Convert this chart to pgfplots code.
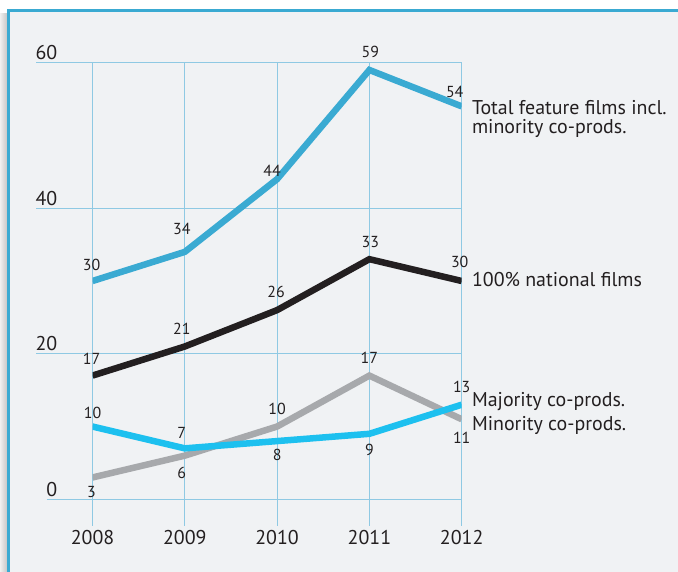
\documentclass[border=0pt]{standalone}
\usepackage{fontspec}
\setmainfont{PT Sans}
\usepackage{pgfplots}
\usepackage{pgfplotstable}
\pgfplotsset{compat=1.18}
\definecolor{bgc}{HTML}{F0F2F4}
\definecolor{framec}{HTML}{3AAAD2}
\definecolor{gridc}{HTML}{8FC9E3}
\definecolor{totalc}{HTML}{3AAAD2}
\definecolor{natc}{HTML}{231F20}
\definecolor{minc}{HTML}{A7A9AC}
\definecolor{majc}{HTML}{1DC0EF}
\definecolor{textc}{HTML}{231F20}

\pgfplotstableread{
x y dx dy
2008 30 -1 16
2009 34 -3 23
2010 44 -5 8
2011 59 1 18
2012 54 -7 14
}\total
\pgfplotstableread{
x y dx dy
2008 17 -1 16.5
2009 21 -3 18
2010 26 -1 18
2011 33 1 17
2012 30 -2 19
}\national
\pgfplotstableread{
x y dx dy
2008 3 -1 -14.5
2009 6 -3 -17
2010 10 0 18
2011 17 0 17.5
2012 11 0 -19
}\minority
\pgfplotstableread{
x y dx dy
2008 10 0 13.5
2009 7 -3 15
2010 8 0 -14
2011 9 0 -16
2012 13 0 18
}\majority

\pgfplotsset{
  dlab/.style={
    line width=6.5bp,
    nodes near coords,
    point meta=explicit symbolic,
    visualization depends on={\thisrow{dx} \as \dx},
    visualization depends on={\thisrow{dy} \as \dy},
    every node near coord/.append style={anchor=center, inner sep=0pt,
      xshift=\dx bp, yshift=\dy bp, text=textc, font=\fontsize{16}{19}\selectfont},
  }
}

\begin{document}
\begin{tikzpicture}
\useasboundingbox (0,0) rectangle (678bp,572bp);
\fill[white] (0,0) rectangle (678bp,572bp);
\fill[bgc] (8bp,0) rectangle (678bp,562bp);
\shade[left color=black!6, right color=black!22] (0,0) rectangle (7bp,558bp);
\draw[framec, line width=2.5bp] (8.5bp,0) -- (8.5bp,561.5bp) -- (678bp,561.5bp);
\begin{axis}[
  at={(92.5bp,72.7bp)}, anchor=south west,
  scale only axis, width=369.2bp, height=436.6bp,
  xmin=2008, xmax=2012, ymin=0, ymax=60,
  clip mode=individual,
  axis line style={draw=none}, tick style={draw=none},
  xtick={2008,2009,2010,2011,2012},
  xticklabels={2008,2009,2010,2011,2012},
  ytick={0,20,40,60},
  /pgf/number format/assume math mode=true,
  xticklabel style={anchor=center, yshift=-38.7bp, text=textc, font=\fontsize{20}{24}\selectfont},
  yticklabel style={anchor=south east, inner sep=0pt, xshift=-35bp, yshift=2.5bp, text=textc, font=\fontsize{20}{24}\selectfont},
]
\draw[gridc, line width=1.1bp] (axis cs:2007.388,60) -- (axis cs:2012,60);
\draw[gridc, line width=1.1bp] (axis cs:2007.388,40) -- (axis cs:2012,40);
\draw[gridc, line width=1.1bp] (axis cs:2007.388,20) -- (axis cs:2012,20);
\draw[gridc, line width=1.1bp] (axis cs:2007.507,0) -- (axis cs:2012,0);
\draw[gridc, line width=1.1bp] (axis cs:2008,60) -- (axis cs:2008,-3.67);
\draw[gridc, line width=1.1bp] (axis cs:2009,60) -- (axis cs:2009,-3.67);
\draw[gridc, line width=1.1bp] (axis cs:2010,60) -- (axis cs:2010,-3.67);
\draw[gridc, line width=1.1bp] (axis cs:2011,60) -- (axis cs:2011,-3.67);
\draw[gridc, line width=1.1bp] (axis cs:2012,60) -- (axis cs:2012,-3.67);

\addplot[totalc, dlab] table[x=x, y=y, meta=y] {\total};
\addplot[natc, dlab] table[x=x, y=y, meta=y] {\national};
\addplot[minc, dlab] table[x=x, y=y, meta=y] {\minority};
\addplot[majc, dlab] table[x=x, y=y, meta=y] {\majority};

\node[anchor=base west, inner sep=0pt, text=textc, font=\fontsize{20}{24}\selectfont] at (axis cs:2012.11,52.91) {Total feature films incl.};
\node[anchor=base west, inner sep=0pt, text=textc, font=\fontsize{20}{24}\selectfont] at (axis cs:2012.11,50.30) {minority co-prods.};
\node[anchor=base west, inner sep=0pt, text=textc, font=\fontsize{20}{24}\selectfont] at (axis cs:2012.11,29.22) {100\% national films};
\node[anchor=base west, inner sep=0pt, text=textc, font=\fontsize{20}{24}\selectfont] at (axis cs:2012.11,12.82) {Majority co-prods.};
\node[anchor=base west, inner sep=0pt, text=textc, font=\fontsize{20}{24}\selectfont] at (axis cs:2012.11,9.52) {Minority co-prods.};
\end{axis}
\end{tikzpicture}
\end{document}
